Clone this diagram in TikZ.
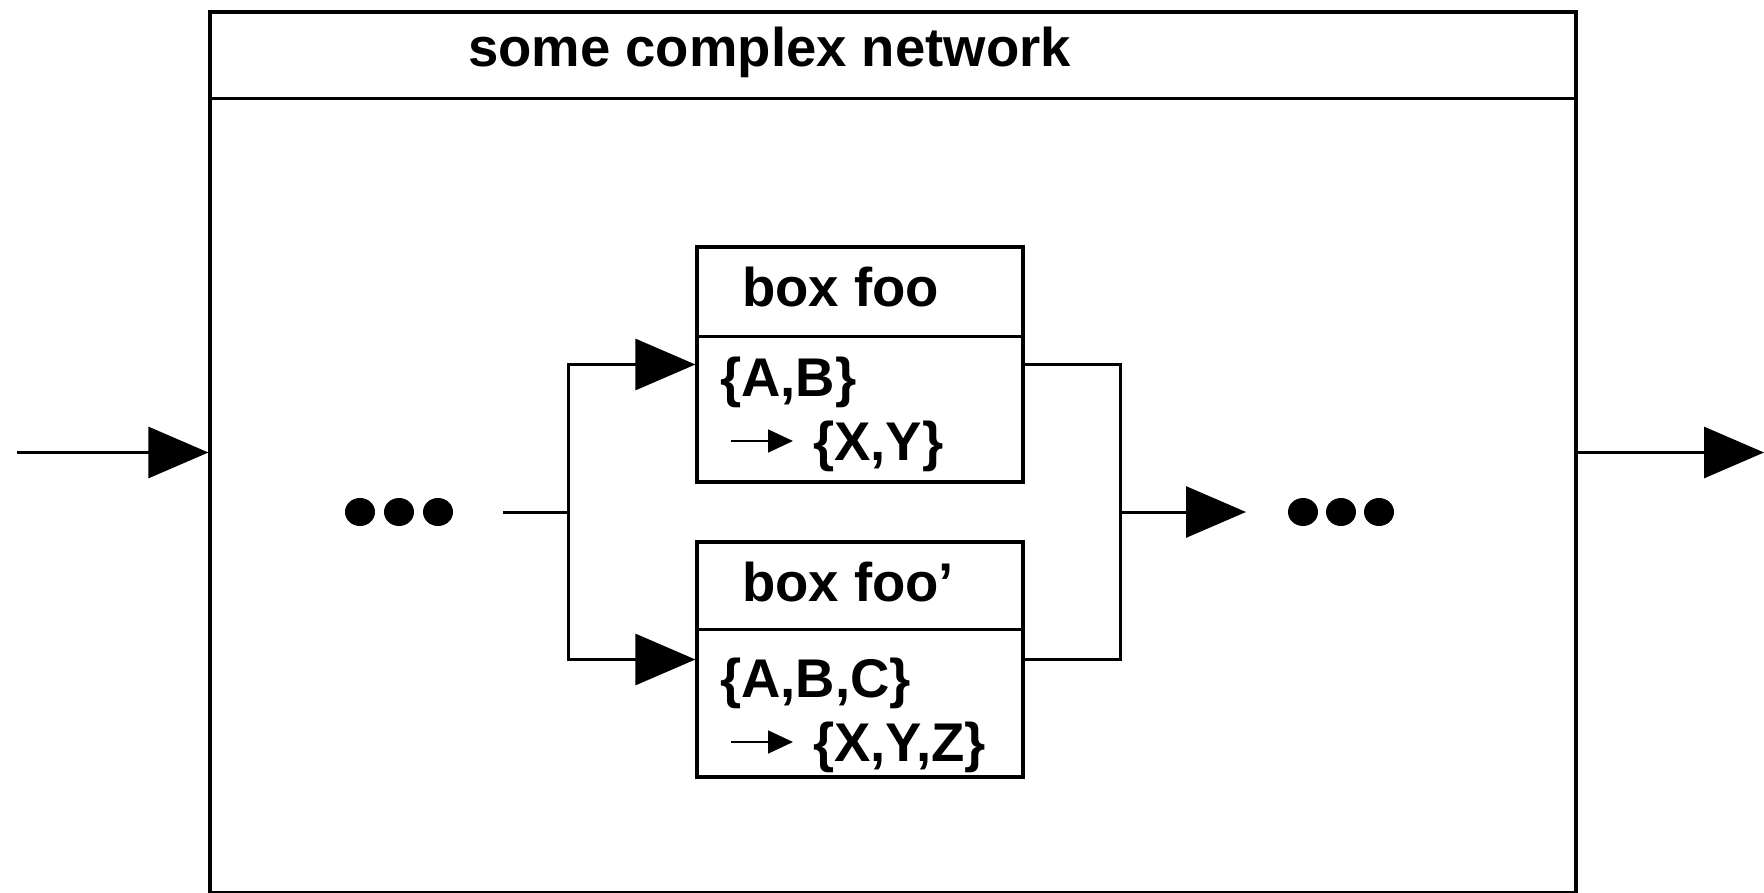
\documentclass[tikz,border=0pt]{standalone}
\usepackage{fontspec}
\setmainfont{Liberation Sans}
\usetikzlibrary{arrows.meta,shapes.geometric}
\tikzset{
  frame/.style={draw, line width=3.2pt, rectangle, inner sep=0pt},
  wire/.style={line width=3pt},
  bigarrow/.style={wire, -{Triangle[length=60pt,width=51pt]}},
  smallarrow/.style={line width=1.8pt, -{Triangle[length=25pt,width=23pt]}},
  label/.style={anchor=base west, inner sep=0pt,
    font=\fontsize{54.5}{60}\selectfont\bfseries},
  dot/.style={ellipse, fill, inner sep=0pt, minimum width=30pt, minimum height=28pt},
}
\begin{document}
\begin{tikzpicture}[x=1pt, y=-1pt]
\useasboundingbox (0,0) rectangle (1764,893);

% outer network box with its title strip
\node[frame, minimum width=1366pt, minimum height=881pt] (net) at (893,452.5) {};
\draw[wire] (net.north west |- 0,99) -- (net.north east |- 0,99);
\node[label] (title) at (468,67) {some complex network};

% the two inner boxes
\node[frame, minimum width=326pt, minimum height=235pt] (foo) at (860,364.5) {};
\draw[wire] (foo.west |- 0,336) -- (foo.east |- 0,336);
\node[label] (fooname) at (742,306) {box foo};
\node[label] (ab) at (720,396) {\{A,B\}};
\node[label] (xy) at (813,460) {\{X,Y\}};
\draw[smallarrow] ([xshift=-82pt,yshift=19pt]xy.base west) -- ([xshift=-20pt,yshift=19pt]xy.base west);

\node[frame, minimum width=326pt, minimum height=235pt] (foob) at (860,659.5) {};
\draw[wire] (foob.west |- 0,629) -- (foob.east |- 0,629);
\node[label] (foobname) at (742,601) {box foo’};
\node[label] (abc) at (720,697) {\{A,B,C\}};
\node[label] (xyz) at (813,761) {\{X,Y,Z\}};
\draw[smallarrow] ([xshift=-82pt,yshift=19pt]xyz.base west) -- ([xshift=-20pt,yshift=19pt]xyz.base west);

% ellipsis marks
\node[dot] (l1) at (360,512) {};
\node[dot] (l2) at (399,512) {};
\node[dot] (l3) at (438,512) {};
\node[dot] (r1) at (1303,512) {};
\node[dot] (r2) at (1341,512) {};
\node[dot] (r3) at (1379,512) {};

% connector end points
\coordinate (src) at (17,452.5);
\coordinate (sink) at (1764,452.5);
\coordinate (fanin) at (503,512);
\coordinate (split) at (568,512);
\coordinate (join) at (1120,512);
\coordinate (rin) at (1246,512);

% connectors
\draw[bigarrow] (src) -- (net.west);
\draw[bigarrow] (net.east) -- (sink);
\draw[wire] (fanin) -- (split);
\draw[bigarrow] (split) |- (foo.west);
\draw[bigarrow] (split) |- (foob.west);
\draw[wire] (foo.east) -| (join) |- (foob.east);
\draw[bigarrow] (join) -- (rin);
\end{tikzpicture}
\end{document}
